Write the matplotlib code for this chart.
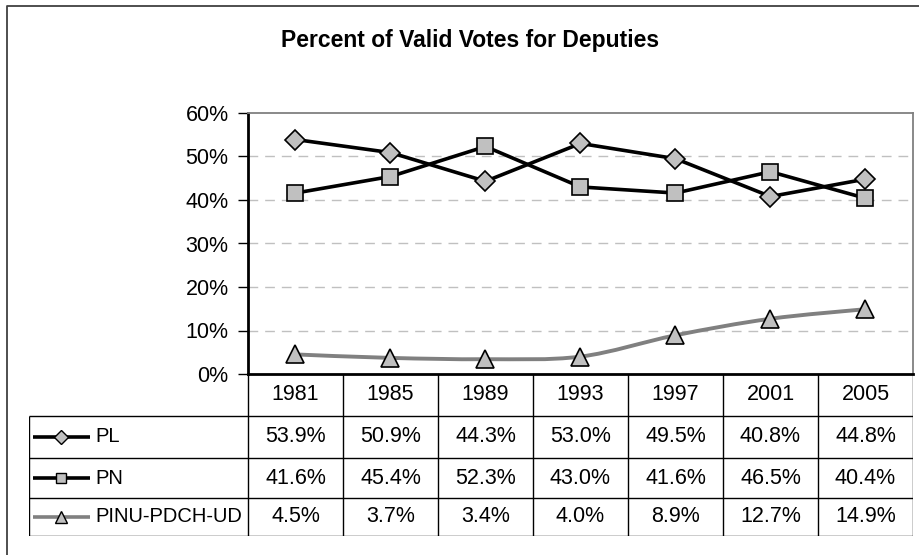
import matplotlib.pyplot as plt
import numpy as np
from matplotlib.path import Path
from matplotlib.patches import PathPatch
from matplotlib.lines import Line2D

years = ['1981', '1985', '1989', '1993', '1997', '2001', '2005']
pl = [53.9, 50.9, 44.3, 53.0, 49.5, 40.8, 44.8]
pn = [41.6, 45.4, 52.3, 43.0, 41.6, 46.5, 40.4]
pinu = [4.5, 3.7, 3.4, 4.0, 8.9, 12.7, 14.9]
series_names = ['PL', 'PN', 'PINU-PDCH-UD']
yticks = [0, 10, 20, 30, 40, 50, 60]

FONT = 'Liberation Sans'
W, H = 920, 555


def fx(px):
    return px / W


def fy(py):
    return 1 - py / H


def smooth_path(x, y):
    # Excel-style smoothed line: Catmull-Rom turned into cubic Bezier segments
    pts = np.column_stack([x, y]).astype(float)
    n = len(pts)
    verts = [pts[0]]
    codes = [Path.MOVETO]
    for i in range(n - 1):
        p0 = pts[max(i - 1, 0)]
        p1 = pts[i]
        p2 = pts[i + 1]
        p3 = pts[min(i + 2, n - 1)]
        verts += [p1 + (p2 - p0) / 6, p2 - (p3 - p1) / 6, p2]
        codes += [Path.CURVE4] * 3
    return Path(verts, codes)


def main():
    plt.rcParams['font.family'] = [FONT, 'DejaVu Sans']
    fig = plt.figure(figsize=(9.2, 5.55), dpi=100)
    x = np.arange(len(years))

    # outer chart frame (left and top visible)
    fig.add_artist(Line2D([fx(7), fx(7), fx(920)], [fy(560), fy(6), fy(6)],
                          color='#404040', lw=1.3, transform=fig.transFigure))

    fig.text(fx(470), fy(40), 'Percent of Valid Votes for Deputies',
             ha='center', va='center', fontsize=16.5, fontweight='bold')

    # plot area
    ax = fig.add_axes([fx(248), fy(374), fx(913 - 248), (374 - 113) / H])
    ax.set_xlim(-0.5, len(years) - 0.5)
    ax.set_ylim(0, 60)
    ax.set_yticks(yticks)
    ax.set_yticklabels([f'{v}%' for v in yticks], fontsize=15.5)
    ax.set_xticks([])
    ax.tick_params(axis='y', direction='out', length=7, width=1, pad=7)
    for v in yticks[1:-1]:
        ax.axhline(v, color='#c0c0c0', lw=1, ls=(0, (7, 5)), zorder=0)
    ax.spines['left'].set_linewidth(2)
    ax.spines['bottom'].set_linewidth(2)
    ax.spines['top'].set_color('#808080')
    ax.spines['right'].set_color('#808080')
    ax.spines['top'].set_linewidth(1.3)
    ax.spines['right'].set_linewidth(1.3)

    ax.plot(x, pl, color='black', lw=2.6, marker='D', ms=10, mfc='#c0c0c0',
            mec='black', mew=1.2, zorder=3)
    ax.plot(x, pn, color='black', lw=2.6, marker='s', ms=12, mfc='#c0c0c0',
            mec='black', mew=1.2, zorder=3)
    ax.add_patch(PathPatch(smooth_path(x, pinu), fill=False, edgecolor='#808080',
                           lw=2.8, zorder=2))
    ax.plot(x, pinu, ls='none', marker='^', ms=13, mfc='#c0c0c0',
            mec='black', mew=1.2, zorder=3)

    # data table below the plot
    left_px = 29
    unit = (913 - 248) / len(years)
    x0 = -0.5 - (248 - left_px) / unit
    tb = fig.add_axes([fx(left_px), fy(536), fx(913 - left_px), (536 - 374) / H])
    tb.set_xlim(x0, len(years) - 0.5)
    row_edges = [0, 42, 84, 124, 162]
    tb.set_ylim(row_edges[-1], 0)
    tb.axis('off')
    lc = dict(color='black', lw=1, solid_capstyle='butt')
    for i in range(len(years) + 1):
        tb.plot([i - 0.5, i - 0.5], [0, row_edges[-1]], **lc)
    for r in row_edges[1:]:
        tb.plot([x0, len(years) - 0.5], [r, r], **lc)
    tb.plot([x0, x0], [row_edges[1], row_edges[-1]], **lc)

    for i, yr in enumerate(years):
        tb.text(i, (row_edges[0] + row_edges[1]) / 2, yr, ha='center',
                va='center', fontsize=15.5)

    styles = [('D', 7, 'black', pl), ('s', 7.5, 'black', pn), ('^', 9, '#808080', pinu)]
    for k, (mk, ms, col, vals) in enumerate(styles):
        yc = (row_edges[k + 1] + row_edges[k + 2]) / 2
        for i, v in enumerate(vals):
            tb.text(i, yc, f'{v:.1f}%', ha='center', va='center', fontsize=15.5)
        tb.plot([x0 + 4 / unit, x0 + 61 / unit], [yc, yc],
                color=col, lw=2.6, solid_capstyle='butt')
        tb.plot([x0 + 32 / unit], [yc], marker=mk, ms=ms, mfc='#c0c0c0', mec='black',
                mew=1, ls='none')
        tb.text(x0 + 66 / unit, yc, series_names[k], ha='left', va='center',
                fontsize=14.5)

    fig.savefig('out.png', dpi=100)


if __name__ == '__main__':
    main()
